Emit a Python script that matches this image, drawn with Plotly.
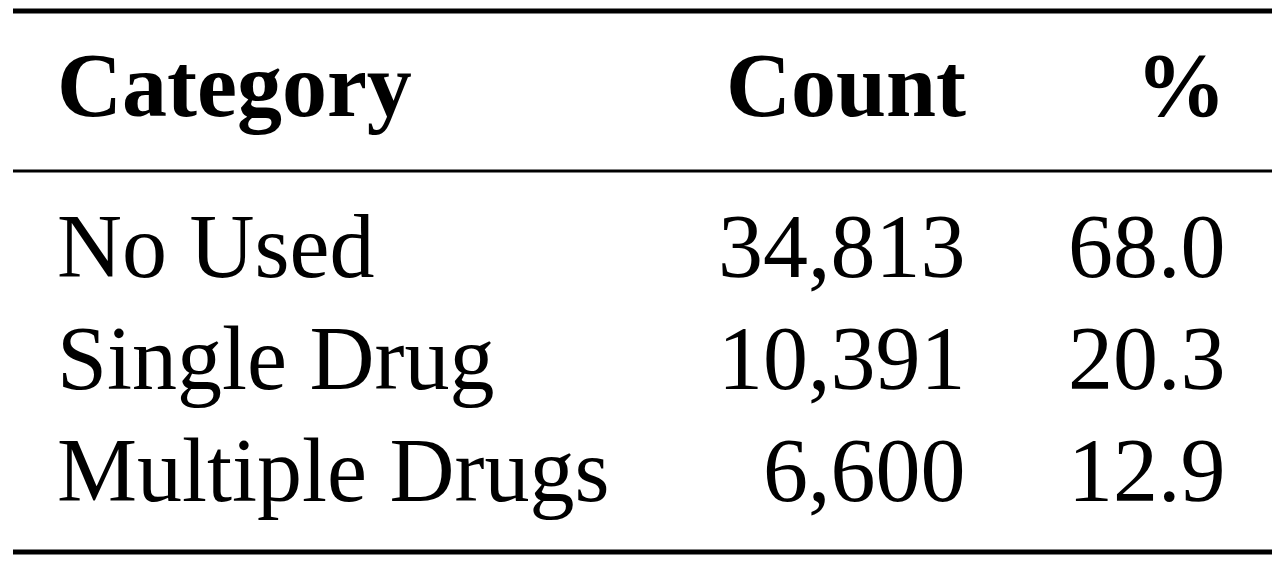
import plotly.graph_objects as go

headers = ["Category", "Count", "%"]
categories = ["No Used", "Single Drug", "Multiple Drugs"]
counts = ["34,813", "10,391", "6,600"]
percents = ["68.0", "20.3", "12.9"]

W, H = 1280, 567
font = "Liberation Serif"
size = 90

fig = go.Figure()
fig.update_layout(
    width=W, height=H, margin=dict(l=0, r=0, t=0, b=0),
    paper_bgcolor="white", plot_bgcolor="white",
    xaxis=dict(range=[0, W], visible=False, fixedrange=True),
    yaxis=dict(range=[H, 0], visible=False, fixedrange=True),
    showlegend=False,
)

# column anchors
col_x = [47, 960, 1220]
col_anchor = ["left", "right", "right"]

def cell(text, col, y, bold=False):
    fig.add_annotation(
        x=col_x[col], y=y, text=f"<b>{text}</b>" if bold else text,
        xanchor=col_anchor[col], yanchor="middle", showarrow=False,
        font=dict(family=font, size=size, color="black"),
    )

for i, h in enumerate(headers):
    cell(h, i, 77, bold=True)

row_y = [238, 350, 462]
for y, c, n, p in zip(row_y, categories, counts, percents):
    cell(c, 0, y)
    cell(n, 1, y)
    cell(p, 2, y)

# rules
for y, w in [(3, 5), (163, 3), (544, 5)]:
    fig.add_shape(type="line", x0=5, x1=1272, y0=y, y1=y,
                  line=dict(color="black", width=w))

fig.write_html("out.html")
